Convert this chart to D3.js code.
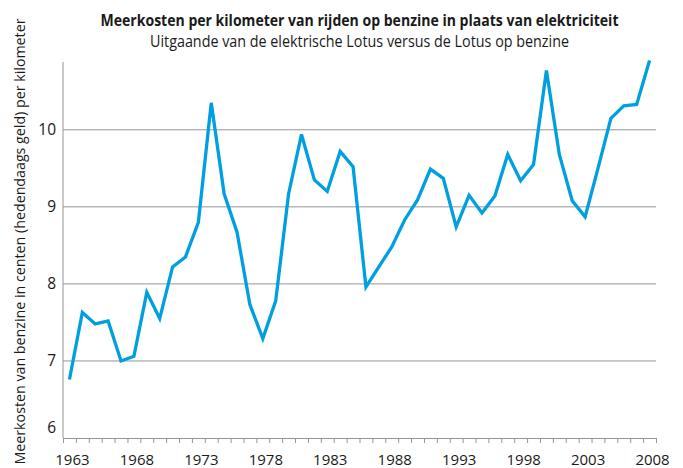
<!DOCTYPE html>
<html>
<head>
<meta charset="utf-8">
<script src="https://cdn.jsdelivr.net/npm/d3@7"></script>
<style>
  body { margin: 0; background: #fff; }
  text { font-family: "Open Sans", "Noto Sans", sans-serif; fill: #1a1a1a; }
</style>
</head>
<body>
<svg id="chart"></svg>
<script>
// data
const years = d3.range(1963, 2009);
const costs = [
  6.76, 7.63, 7.48, 7.52, 7.00, 7.06, 7.89, 7.55, 8.22, 8.35,
  8.80, 10.35, 9.17, 8.67, 7.73, 7.29, 7.78, 9.17, 9.94, 9.35,
  9.20, 9.72, 9.52, 7.96, 8.22, 8.48, 8.83, 9.09, 9.49, 9.37,
  8.74, 9.15, 8.92, 9.14, 9.68, 9.34, 9.55, 10.77, 9.68, 9.08,
  8.87, 9.50, 10.15, 10.31, 10.33, 10.90,
];
const xTickLabels = [1963, 1968, 1973, 1978, 1983, 1988, 1993, 1998, 2003, 2008];
const yTickLabels = [6, 7, 8, 9, 10];
const gridValues = [7, 8, 9, 10];
const yDomain = [6, 10.88];

const title = 'Meerkosten per kilometer van rijden op benzine in plaats van elektriciteit';
const subtitle = 'Uitgaande van de elektrische Lotus versus de Lotus op benzine';
const yLabel = 'Meerkosten van benzine in centen (hedendaags geld) per kilometer';

const width = 683;
const height = 468;
const plot = { left: 63, right: 656, top: 62, bottom: 438 };
const axisColor = '#959595';

const svg = d3.select('#chart')
  .attr('width', width)
  .attr('height', height);

// each year gets a band, point in the middle
const x = d3.scaleLinear()
  .domain([years[0] - 0.5, years[years.length - 1] + 0.5])
  .range([plot.left, plot.right]);
const y = d3.scaleLinear().domain(yDomain).range([plot.bottom, plot.top]);

// grid lines
svg.append('g')
  .selectAll('line')
  .data(gridValues)
  .enter().append('line')
    .attr('x1', plot.left)
    .attr('x2', plot.right)
    .attr('y1', d => y(d))
    .attr('y2', d => y(d))
    .attr('stroke', axisColor)
    .attr('stroke-width', 1);

// y axis line
svg.append('line')
  .attr('x1', plot.left).attr('x2', plot.left)
  .attr('y1', plot.top).attr('y2', plot.bottom)
  .attr('stroke', axisColor);

// x axis with a tick between every year
const xAxis = d3.axisBottom(x)
  .tickValues(d3.range(years[0] - 0.5, years[years.length - 1] + 1, 1))
  .tickSize(5)
  .tickSizeOuter(0)
  .tickFormat('');
svg.append('g')
  .attr('transform', `translate(0,${plot.bottom})`)
  .call(xAxis)
  .call(g => g.selectAll('line, path').attr('stroke', axisColor));

svg.append('g')
  .selectAll('text')
  .data(xTickLabels)
  .enter().append('text')
    .attr('x', d => x(d) + 3)
    .attr('y', 465)
    .attr('text-anchor', 'middle')
    .attr('font-size', '15px')
    .text(d => d);

svg.append('g')
  .selectAll('text')
  .data(yTickLabels)
  .enter().append('text')
    .attr('x', 56)
    .attr('y', d => (d === 6 ? y(d) - 10 : y(d)))
    .attr('dy', '0.35em')
    .attr('text-anchor', 'end')
    .attr('font-size', '15.5px')
    .text(d => d);

// the line
const line = d3.line()
  .x((d, i) => x(years[i]))
  .y(d => y(d));

svg.append('path')
  .datum(costs)
  .attr('d', line)
  .attr('fill', 'none')
  .attr('stroke', '#009fe0')
  .attr('stroke-width', 3.3)
  .attr('stroke-linejoin', 'miter');

// titles
const mid = (plot.left + plot.right) / 2;
svg.append('text')
  .attr('x', mid)
  .attr('y', 26)
  .attr('text-anchor', 'middle')
  .attr('font-size', '15.5px')
  .attr('font-weight', 'bold')
  .attr('textLength', 518)
  .attr('lengthAdjust', 'spacingAndGlyphs')
  .text(title);

svg.append('text')
  .attr('x', mid)
  .attr('y', 47)
  .attr('text-anchor', 'middle')
  .attr('font-size', '15.5px')
  .attr('textLength', 419)
  .attr('lengthAdjust', 'spacingAndGlyphs')
  .text(subtitle);

svg.append('text')
  .attr('transform', 'translate(25,241.5) rotate(-90)')
  .attr('text-anchor', 'middle')
  .attr('font-size', '14.5px')
  .attr('textLength', 446)
  .attr('lengthAdjust', 'spacingAndGlyphs')
  .text(yLabel);
</script>
</body>
</html>
